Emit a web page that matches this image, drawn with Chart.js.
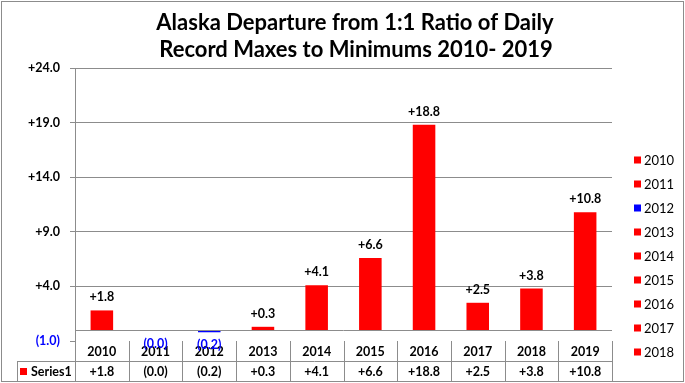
<!DOCTYPE html>
<html><head><meta charset="utf-8">
<script src="https://cdn.jsdelivr.net/npm/chart.js@4"></script>
<style>html,body{margin:0;padding:0;background:#fff}#wrap{width:685px;height:383px;position:relative}</style>
</head><body><div id="wrap"><canvas id="c" width="685" height="383"></canvas></div>
<script>
const titleLines = ['Alaska Departure from 1:1 Ratio of Daily', 'Record Maxes to Minimums 2010- 2019'];
const categories = ['2010','2011','2012','2013','2014','2015','2016','2017','2018','2019'];
const values = [1.8, -0.04, -0.2, 0.3, 4.1, 6.6, 18.8, 2.5, 3.8, 10.8];
const barColors = ['#ff0000','#ff0000','#0000ff','#ff0000','#ff0000','#ff0000','#ff0000','#ff0000','#ff0000','#ff0000'];
const legendYears = ['2010','2011','2012','2013','2014','2015','2016','2017','2018'];
const yTicks = [-1, 4, 9, 14, 19, 24];
const seriesName = 'Series1';

const FONT = 'Lato, "Open Sans", sans-serif';
const GRID = '#8c8c8c';
function fmt(v){ return v < 0 ? '(' + Math.abs(v).toFixed(1) + ')' : '+' + v.toFixed(1); }

const extras = {
  id: 'extras',
  afterDatasetsDraw(chart){
    const ctx = chart.ctx, x = chart.scales.x, y = chart.scales.y, ca = chart.chartArea;
    ctx.save();
    // zero line
    const y0 = Math.round(y.getPixelForValue(0)) + 0.5;
    ctx.strokeStyle = GRID; ctx.lineWidth = 1;
    ctx.beginPath(); ctx.moveTo(ca.left, y0); ctx.lineTo(ca.right, y0); ctx.stroke();
    const n = categories.length;
    const cw = (x.getPixelForValue(1) - x.getPixelForValue(0));
    const top = ca.bottom, mid = ca.bottom + 20, bot = ca.bottom + 40;
    const tl = 17;
    // table grid
    ctx.strokeStyle = GRID;
    ctx.beginPath();
    ctx.moveTo(tl, mid + 0.5); ctx.lineTo(ca.right, mid + 0.5);
    ctx.moveTo(tl, bot + 0.5); ctx.lineTo(ca.right, bot + 0.5);
    ctx.moveTo(tl + 0.5, mid); ctx.lineTo(tl + 0.5, bot);
    for (let i = 0; i <= n; i++) {
      const px = Math.round(x.getPixelForValue(i) - cw / 2) + 0.5;
      ctx.moveTo(px, top); ctx.lineTo(px, bot);
    }
    ctx.stroke();
    ctx.textAlign = 'center'; ctx.textBaseline = 'middle';
    ctx.font = 'bold 12.5px ' + FONT; ctx.fillStyle = '#000';
    for (let i = 0; i < n; i++) {
      ctx.fillText(categories[i], x.getPixelForValue(i), top + 10.5);
      ctx.fillText(fmt(values[i]), x.getPixelForValue(i), mid + 10.5);
    }
    ctx.fillStyle = '#ff0000'; ctx.fillRect(20, mid + 7, 7, 7);
    ctx.fillStyle = '#000'; ctx.textAlign = 'left';
    ctx.fillText(seriesName, 31, mid + 10.5);
    // data labels
    const meta = chart.getDatasetMeta(0);
    ctx.font = 'bold 12.5px ' + FONT; ctx.textAlign = 'center';
    meta.data.forEach((bar, i) => {
      const v = values[i];
      if (v >= 0) { ctx.fillStyle = '#000'; ctx.fillText(fmt(v), bar.x, bar.y - 13); }
      else { ctx.fillStyle = '#0000ff'; ctx.fillText(fmt(v), bar.x, Math.max(bar.y, bar.base) + 13); }
    });
    // legend
    ctx.font = '13px ' + FONT; ctx.textAlign = 'left';
    legendYears.forEach((yr, i) => {
      const cy = 160 + i * 24;
      ctx.fillStyle = barColors[i]; ctx.fillRect(634, cy - 3.5, 7, 7);
      ctx.fillStyle = '#000'; ctx.fillText(yr, 644, cy + 0.5);
    });
    // title
    ctx.textAlign = 'center'; ctx.font = 'bold 22px ' + FONT; ctx.fillStyle = '#000';
    ctx.fillText(titleLines[0], 355, 23);
    ctx.fillText(titleLines[1], 356, 50);
    // outer border
    ctx.strokeStyle = GRID;
    ctx.strokeRect(1.5, 1.5, 682, 380);
    ctx.restore();
  }
};

new Chart(document.getElementById('c'), {
  type: 'bar',
  data: { labels: categories, datasets: [{ label: seriesName, data: values, backgroundColor: barColors, categoryPercentage: 1, barPercentage: 0.42 }] },
  options: {
    responsive: false, animation: false,
    layout: { padding: { top: 68, right: 73, bottom: 2, left: 0 } },
    plugins: { legend: { display: false }, title: { display: false }, tooltip: { enabled: false } },
    scales: {
      x: {
        grid: { display: false }, border: { display: false },
        ticks: { display: false },
        afterFit(s){ s.height = 40; }
      },
      y: {
        min: -1, max: 24,
        afterBuildTicks(s){ s.ticks = yTicks.map(v => ({ value: v })); },
        grid: { color: ctx => (ctx.tick && ctx.tick.value === -1) ? 'rgba(0,0,0,0)' : GRID, tickLength: 5, tickColor: GRID },
        border: { display: true, color: GRID },
        ticks: { callback: v => fmt(v), color: ctx => ctx.tick.value < 0 ? '#0000ff' : '#000', font: { family: FONT, size: 12.5, weight: 'bold' }, padding: 10 },
        afterFit(s){ s.width = 75; }
      }
    }
  },
  plugins: [extras]
});
</script></body></html>
